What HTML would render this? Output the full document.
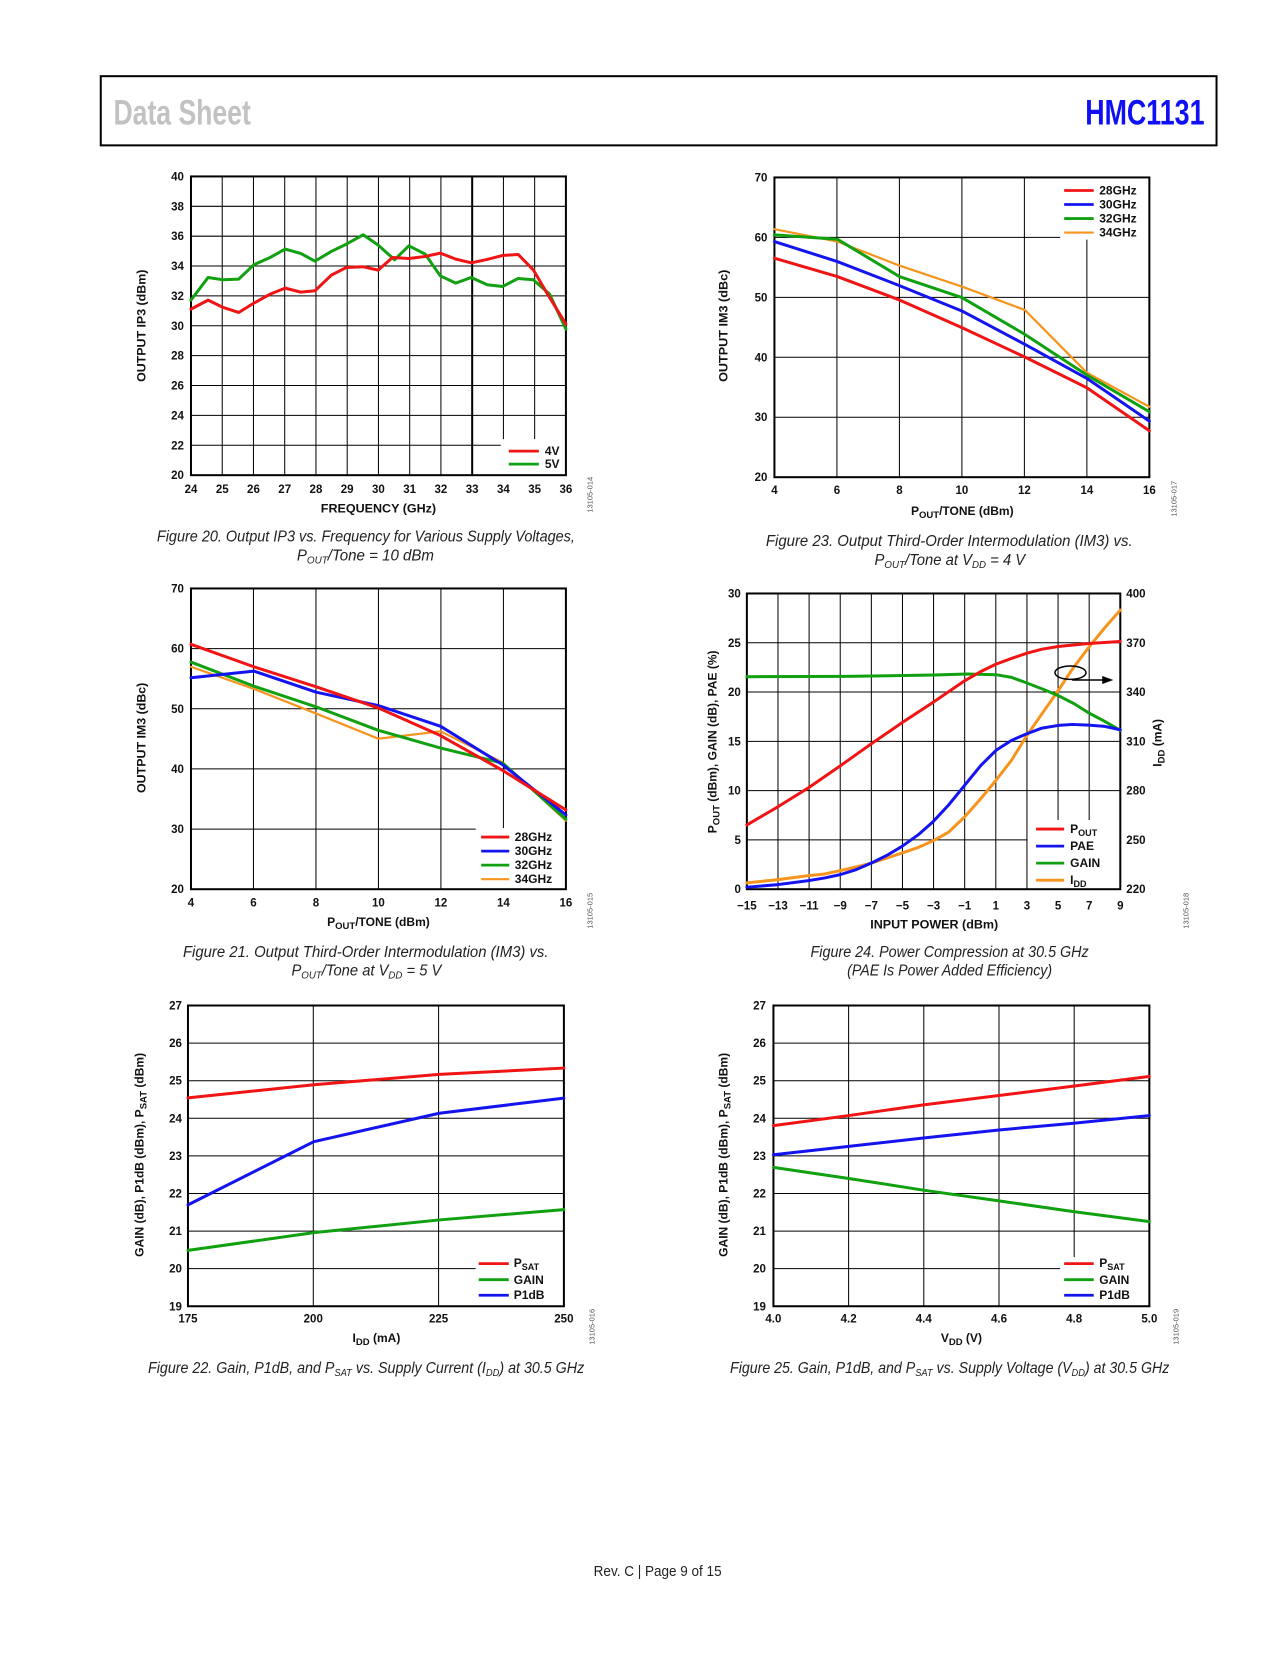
<!DOCTYPE html>
<html><head><meta charset="utf-8"><style>
html,body{margin:0;padding:0;background:#fff}
svg text{font-family:"Liberation Sans",Arial,sans-serif}
.t{font-size:11.5px;font-weight:bold;fill:#111}
.e{text-anchor:end}
.m{text-anchor:middle}
.ax{font-size:12px;font-weight:bold;fill:#111}
.lg{font-size:12px;font-weight:bold;fill:#111}
.cap{font-style:italic;font-size:16px;fill:#222}
.code{font-size:7.5px;fill:#555}
.g{stroke:#000;stroke-width:1;fill:none}
.b{stroke:#000;stroke-width:2;fill:none}
.s{fill:none;stroke-width:3;stroke-linejoin:round;stroke-linecap:round;vector-effect:non-scaling-stroke}
.so{fill:none;stroke-width:2.2;stroke-linejoin:round;stroke-linecap:round;vector-effect:non-scaling-stroke}
</style></head><body>
<svg width="1275" height="1650" viewBox="0 0 1275 1650" xmlns="http://www.w3.org/2000/svg">
<rect width="1275" height="1650" fill="#fff"/>
<g transform="translate(0.5,1) scale(1.0025)">
<!-- Header -->
<rect x="100" y="75" width="1113" height="69" fill="none" stroke="#000" stroke-width="2"/>
<text x="112.7" y="123" font-size="35" font-weight="bold" fill="#c2c2c2" textLength="137" lengthAdjust="spacingAndGlyphs">Data Sheet</text>
<text x="1082" y="123" font-size="35" font-weight="bold" fill="#1010f5" textLength="119" lengthAdjust="spacingAndGlyphs">HMC1131</text>

<!-- ============ Chart 20 ============ -->
<g>
<path class="g" d="M221.17 175V473M252.33 175V473M283.5 175V473M314.67 175V473M345.83 175V473M377 175V473M408.17 175V473M439.33 175V473M470.5 175V473M501.67 175V473M532.83 175V473
M190 204.8H564M190 234.6H564M190 264.4H564M190 294.2H564M190 324H564M190 353.8H564M190 383.6H564M190 413.4H564M190 443.2H564"/>
<path d="M470.5 175V473" stroke="#000" stroke-width="2"/>
<rect x="499" y="437" width="65" height="36" fill="#fff"/>
<rect class="b" x="190" y="175" width="374" height="298"/>
<svg x="190" y="175" width="374" height="298" viewBox="466 347 919 896" preserveAspectRatio="none" overflow="visible">
<polyline class="s" stroke="#10a010" points="466,718 508,650 545,657 583,655 620,612 660,590 697,565 735,578 770,601 810,572 847,550 888,522 925,553 965,597 1000,555 1040,580 1077,645 1115,667 1153,650 1192,672 1230,677 1268,653 1305,657 1345,700 1385,805"/>
<polyline class="s" stroke="#f01414" points="466,745 508,718 545,740 583,755 620,727 660,700 697,682 735,694 770,690 810,643 847,620 888,618 925,628 960,590 1000,593 1040,587 1077,577 1115,595 1153,606 1192,596 1230,584 1268,581 1305,627 1340,700 1385,790"/>
</svg>
<line x1="507" y1="449" x2="537" y2="449" stroke="#f01414" stroke-width="2.8"/>
<line x1="507" y1="462" x2="537" y2="462" stroke="#10a010" stroke-width="2.8"/>
<text class="lg" x="543" y="453">4V</text>
<text class="lg" x="543" y="466">5V</text>
<g class="t e">
<text x="183" y="179">40</text><text x="183" y="208.8">38</text><text x="183" y="238.6">36</text><text x="183" y="268.4">34</text><text x="183" y="298.2">32</text><text x="183" y="328">30</text><text x="183" y="357.8">28</text><text x="183" y="387.6">26</text><text x="183" y="417.4">24</text><text x="183" y="447.2">22</text><text x="183" y="477">20</text>
</g>
<g class="t m">
<text x="190" y="491">24</text><text x="221.17" y="491">25</text><text x="252.33" y="491">26</text><text x="283.5" y="491">27</text><text x="314.67" y="491">28</text><text x="345.83" y="491">29</text><text x="377" y="491">30</text><text x="408.17" y="491">31</text><text x="439.33" y="491">32</text><text x="470.5" y="491">33</text><text x="501.67" y="491">34</text><text x="532.83" y="491">35</text><text x="564" y="491">36</text>
</g>
<text class="ax" x="319.5" y="510" textLength="115" lengthAdjust="spacingAndGlyphs">FREQUENCY (GHz)</text>
<text class="ax m" transform="translate(144.5,324) rotate(-90)" textLength="112" lengthAdjust="spacingAndGlyphs">OUTPUT IP3 (dBm)</text>
<text class="code m" transform="translate(590.5,492.5) rotate(-90)">13105-014</text>
<text class="cap" x="156" y="539" textLength="417" lengthAdjust="spacingAndGlyphs">Figure 20. Output IP3 vs. Frequency for Various Supply Voltages,</text>
<text class="cap m" transform="translate(364,558) scale(0.94,1)" x="0" y="0">P<tspan font-size="10.5" dy="3">OUT</tspan><tspan dy="-3">/Tone = 10 dBm</tspan></text>
</g>

<!-- ============ Chart 21 ============ -->
<g>
<path class="g" d="M252.33 586V886M314.67 586V886M377 586V886M439.33 586V886M501.67 586V886
M190 646H564M190 706H564M190 766H564M190 826H564"/>
<rect x="474" y="825" width="90" height="61" fill="#fff"/>
<rect class="b" x="190" y="586" width="374" height="300"/>
<svg x="190" y="586" width="374" height="300" viewBox="466 78 919 899" preserveAspectRatio="none" overflow="visible">
<polyline class="so" stroke="#f7941d" points="466,312 620,378 773,452 925,527 1078,505 1230,598 1385,772"/>
<polyline class="s" stroke="#10a010" points="466,298 620,370 773,432 925,502 1078,555 1230,600 1385,768"/>
<polyline class="s" stroke="#1414f0" points="466,345 620,325 773,388 925,428 1078,490 1230,605 1385,755"/>
<polyline class="s" stroke="#f01414" points="466,245 620,312 773,372 925,435 1078,518 1230,622 1385,740"/>
</svg>
<line x1="479.5" y1="834" x2="507.5" y2="834" stroke="#f01414" stroke-width="2.8"/>
<line x1="479.5" y1="848" x2="507.5" y2="848" stroke="#1414f0" stroke-width="2.8"/>
<line x1="479.5" y1="862" x2="507.5" y2="862" stroke="#10a010" stroke-width="2.8"/>
<line x1="479.5" y1="876" x2="507.5" y2="876" stroke="#f7941d" stroke-width="2.2"/>
<text class="lg" x="513" y="838">28GHz</text>
<text class="lg" x="513" y="852">30GHz</text>
<text class="lg" x="513" y="866">32GHz</text>
<text class="lg" x="513" y="880">34GHz</text>
<g class="t e">
<text x="183" y="590">70</text><text x="183" y="650">60</text><text x="183" y="710">50</text><text x="183" y="770">40</text><text x="183" y="830">30</text><text x="183" y="890">20</text>
</g>
<g class="t m">
<text x="190" y="903">4</text><text x="252.33" y="903">6</text><text x="314.67" y="903">8</text><text x="377" y="903">10</text><text x="439.33" y="903">12</text><text x="501.67" y="903">14</text><text x="564" y="903">16</text>
</g>
<text class="ax m" x="377" y="922.5" font-size="12.5">P<tspan font-size="9.5" dy="3">OUT</tspan><tspan dy="-3">/TONE (dBm)</tspan></text>
<text class="ax m" transform="translate(144.5,735) rotate(-90)" textLength="110" lengthAdjust="spacingAndGlyphs">OUTPUT IM3 (dBc)</text>
<text class="code m" transform="translate(590.5,907.5) rotate(-90)">13105-015</text>
<text class="cap" x="182" y="953.5" textLength="364.6" lengthAdjust="spacingAndGlyphs">Figure 21. Output Third-Order Intermodulation (IM3) vs.</text>
<text class="cap m" transform="translate(365,972) scale(0.92,1)" x="0" y="0">P<tspan font-size="10.5" dy="3">OUT</tspan><tspan dy="-3">/Tone at V</tspan><tspan font-size="10.5" dy="3">DD</tspan><tspan dy="-3"> = 5 V</tspan></text>
</g>

<!-- ============ Chart 22 ============ -->
<g>
<path class="g" d="M312 1002V1302M437 1002V1302
M187 1039.5H562M187 1077H562M187 1114.5H562M187 1152H562M187 1189.5H562M187 1227H562M187 1264.5H562"/>
<rect x="474" y="1253" width="88" height="49" fill="#fff"/>
<rect class="b" x="187" y="1002" width="375" height="300"/>
<svg x="187" y="1002" width="375" height="300" viewBox="460 96 920 899" preserveAspectRatio="none" overflow="visible">
<polyline class="s" stroke="#10a010" points="460,828 768,775 1075,737 1380,706"/>
<polyline class="s" stroke="#1414f0" points="460,692 768,503 1075,418 1380,373"/>
<polyline class="s" stroke="#f01414" points="460,372 768,333 1075,302 1380,283"/>
</svg>
<line x1="477" y1="1259.5" x2="507" y2="1259.5" stroke="#f01414" stroke-width="2.8"/>
<line x1="477" y1="1275.5" x2="507" y2="1275.5" stroke="#10a010" stroke-width="2.8"/>
<line x1="477" y1="1291" x2="507" y2="1291" stroke="#1414f0" stroke-width="2.8"/>
<text class="lg" x="512" y="1263">P<tspan font-size="9" dy="3">SAT</tspan></text>
<text class="lg" x="512" y="1280">GAIN</text>
<text class="lg" x="512" y="1295">P1dB</text>
<g class="t e">
<text x="181" y="1006">27</text><text x="181" y="1043.5">26</text><text x="181" y="1081">25</text><text x="181" y="1118.5">24</text><text x="181" y="1156">23</text><text x="181" y="1193.5">22</text><text x="181" y="1231">21</text><text x="181" y="1268.5">20</text><text x="181" y="1306">19</text>
</g>
<g class="t m">
<text x="187" y="1318">175</text><text x="312" y="1318">200</text><text x="437" y="1318">225</text><text x="562" y="1318">250</text>
</g>
<text class="ax m" x="375" y="1337.5">I<tspan font-size="9.5" dy="3">DD</tspan><tspan dy="-3"> (mA)</tspan></text>
<text class="ax m" transform="translate(142.5,1151) rotate(-90)">GAIN (dB), P1dB (dBm), P<tspan font-size="9.5" dy="3">SAT</tspan><tspan dy="-3"> (dBm)</tspan></text>
<text class="code m" transform="translate(592.5,1322.5) rotate(-90)">13105-016</text>
<text class="cap m" transform="translate(364.7,1368.5) scale(0.89,1)" x="0" y="0">Figure 22. Gain, P1dB, and P<tspan font-size="10.5" dy="3">SAT</tspan><tspan dy="-3"> vs. Supply Current (I</tspan><tspan font-size="10.5" dy="3">DD</tspan><tspan dy="-3">) at 30.5 GHz</tspan></text>
</g>

<!-- ============ Chart 23 ============ -->
<g>
<path class="g" d="M834.33 176V475M896.67 176V475M959 176V475M1021.33 176V475M1083.67 176V475
M772 235.8H1146M772 295.6H1146M772 355.4H1146M772 415.2H1146"/>
<rect x="1057" y="176" width="89" height="62" fill="#fff"/>
<rect class="b" x="772" y="176" width="374" height="299"/>
<svg x="772" y="176" width="374" height="299" viewBox="325 348 924 898" preserveAspectRatio="none" overflow="visible">
<polyline class="so" stroke="#f7941d" points="325,503 480,540 633,612 787,675 942,745 1095,933 1249,1035"/>
<polyline class="s" stroke="#10a010" points="325,520 480,533 633,645 787,708 942,818 1095,940 1249,1050"/>
<polyline class="s" stroke="#1414f0" points="325,540 480,600 633,672 787,748 942,848 1095,950 1249,1078"/>
<polyline class="s" stroke="#f01414" points="325,590 480,645 633,715 787,798 942,886 1095,978 1249,1107"/>
</svg>
<line x1="1061" y1="189" x2="1090.5" y2="189" stroke="#f01414" stroke-width="2.8"/>
<line x1="1061" y1="203" x2="1090.5" y2="203" stroke="#1414f0" stroke-width="2.8"/>
<line x1="1061" y1="217" x2="1090.5" y2="217" stroke="#10a010" stroke-width="2.8"/>
<line x1="1061" y1="231" x2="1090.5" y2="231" stroke="#f7941d" stroke-width="2.2"/>
<text class="lg" x="1096" y="193">28GHz</text>
<text class="lg" x="1096" y="207">30GHz</text>
<text class="lg" x="1096" y="221">32GHz</text>
<text class="lg" x="1096" y="235">34GHz</text>
<g class="t e">
<text x="765" y="180">70</text><text x="765" y="239.8">60</text><text x="765" y="299.6">50</text><text x="765" y="359.4">40</text><text x="765" y="419.2">30</text><text x="765" y="479">20</text>
</g>
<g class="t m">
<text x="772" y="492">4</text><text x="834.33" y="492">6</text><text x="896.67" y="492">8</text><text x="959" y="492">10</text><text x="1021.33" y="492">12</text><text x="1083.67" y="492">14</text><text x="1146" y="492">16</text>
</g>
<text class="ax m" x="959.4" y="512.5" font-size="12.5">P<tspan font-size="9.5" dy="3">OUT</tspan><tspan dy="-3">/TONE (dBm)</tspan></text>
<text class="ax m" transform="translate(725,324) rotate(-90)" textLength="112" lengthAdjust="spacingAndGlyphs">OUTPUT IM3 (dBc)</text>
<text class="code m" transform="translate(1173,496.5) rotate(-90)">13105-017</text>
<text class="cap" x="763.5" y="543.5" textLength="365.8" lengthAdjust="spacingAndGlyphs">Figure 23. Output Third-Order Intermodulation (IM3) vs.</text>
<text class="cap m" transform="translate(947,562.5) scale(0.925,1)" x="0" y="0">P<tspan font-size="10.5" dy="3">OUT</tspan><tspan dy="-3">/Tone at V</tspan><tspan font-size="10.5" dy="3">DD</tspan><tspan dy="-3"> = 4 V</tspan></text>
</g>

<!-- ============ Chart 24 ============ -->
<g>
<path class="g" d="M775.54 591V886M806.58 591V886M837.63 591V886M868.67 591V886M899.71 591V886M930.75 591V886M961.79 591V886M992.83 591V886M1023.88 591V886M1054.92 591V886M1085.96 591V886
M744.5 640.17H1117M744.5 689.33H1117M744.5 738.5H1117M744.5 787.67H1117M744.5 836.83H1117"/>
<rect x="1024.5" y="817" width="92.5" height="69" fill="#fff"/>
<rect class="b" x="744.5" y="591" width="372.5" height="295"/>
<svg x="744.5" y="591" width="372.5" height="295" viewBox="258 92 920 892" preserveAspectRatio="none" overflow="visible">
<polyline class="s" stroke="#f7941d" points="258,965 335,955 410,943 450,938 488,928 527,917 565,905 603,890 640,875 680,858 717,838 755,812 795,765 835,710 872,655 910,595 948,520 985,455 1025,385 1060,320 1100,255 1140,195 1178,142"/>
<polyline class="s" stroke="#10a010" points="258,343 500,342 720,338 800,335 872,337 910,345 948,362 990,382 1025,400 1065,425 1100,452 1140,478 1178,505"/>
<polyline class="s" stroke="#1414f0" points="258,978 335,970 410,958 450,950 488,940 527,925 565,905 603,882 640,855 680,820 717,780 755,730 795,670 835,610 872,565 910,535 948,515 985,498 1025,490 1060,487 1100,489 1140,493 1178,503"/>
<polyline class="s" stroke="#f01414" points="258,790 335,735 410,678 488,612 565,545 640,482 717,420 795,355 835,327 872,305 910,288 948,272 985,260 1025,252 1100,243 1178,237"/>
</svg>
<ellipse cx="1067.3" cy="670" rx="15.5" ry="6.7" fill="none" stroke="#000" stroke-width="1.5"/>
<line x1="1069" y1="677.3" x2="1101" y2="677.3" stroke="#000" stroke-width="1.5"/>
<polygon points="1099,673.3 1110,677.3 1099,681.3" fill="#000"/>
<line x1="1033" y1="826" x2="1061" y2="826" stroke="#f01414" stroke-width="2.8"/>
<line x1="1033" y1="843" x2="1061" y2="843" stroke="#1414f0" stroke-width="2.8"/>
<line x1="1033" y1="860" x2="1061" y2="860" stroke="#10a010" stroke-width="2.8"/>
<line x1="1033" y1="877" x2="1061" y2="877" stroke="#f7941d" stroke-width="2.8"/>
<text class="lg" x="1067" y="830">P<tspan font-size="9" dy="3">OUT</tspan></text>
<text class="lg" x="1067" y="847">PAE</text>
<text class="lg" x="1067" y="864">GAIN</text>
<text class="lg" x="1067" y="881">I<tspan font-size="9" dy="3">DD</tspan></text>
<g class="t e">
<text x="738.5" y="595">30</text><text x="738.5" y="644.17">25</text><text x="738.5" y="693.33">20</text><text x="738.5" y="742.5">15</text><text x="738.5" y="791.67">10</text><text x="738.5" y="840.83">5</text><text x="738.5" y="890">0</text>
</g>
<g class="t">
<text x="1123" y="595">400</text><text x="1123" y="644.17">370</text><text x="1123" y="693.33">340</text><text x="1123" y="742.5">310</text><text x="1123" y="791.67">280</text><text x="1123" y="840.83">250</text><text x="1123" y="890">220</text>
</g>
<g class="t m">
<text x="744.5" y="906">−15</text><text x="775.54" y="906">−13</text><text x="806.58" y="906">−11</text><text x="837.63" y="906">−9</text><text x="868.67" y="906">−7</text><text x="899.71" y="906">−5</text><text x="930.75" y="906">−3</text><text x="961.79" y="906">−1</text><text x="992.83" y="906">1</text><text x="1023.88" y="906">3</text><text x="1054.92" y="906">5</text><text x="1085.96" y="906">7</text><text x="1117" y="906">9</text>
</g>
<text class="ax" x="867.6" y="925" textLength="127.6" lengthAdjust="spacingAndGlyphs">INPUT POWER (dBm)</text>
<text class="ax m" transform="translate(714,739) rotate(-90)">P<tspan font-size="9.5" dy="3">OUT</tspan><tspan dy="-3"> (dBm), GAIN (dB), PAE (%)</tspan></text>
<text class="ax m" transform="translate(1158,740) rotate(-90)">I<tspan font-size="9.5" dy="3">DD</tspan><tspan dy="-3"> (mA)</tspan></text>
<text class="code m" transform="translate(1185,907.5) rotate(-90)">13105-018</text>
<text class="cap" x="808" y="953.5" textLength="277.5" lengthAdjust="spacingAndGlyphs">Figure 24. Power Compression at 30.5 GHz</text>
<text class="cap" x="844.5" y="972" textLength="204.5" lengthAdjust="spacingAndGlyphs">(PAE Is Power Added Efficiency)</text>
</g>

<!-- ============ Chart 25 ============ -->
<g>
<path class="g" d="M846 1002V1302M921 1002V1302M996 1002V1302M1071 1002V1302
M771 1039.5H1146M771 1077H1146M771 1114.5H1146M771 1152H1146M771 1189.5H1146M771 1227H1146M771 1264.5H1146"/>
<rect x="1057" y="1253" width="89" height="49" fill="#fff"/>
<rect class="b" x="771" y="1002" width="375" height="300"/>
<svg x="771" y="1002" width="375" height="300" viewBox="322 96 927 899" preserveAspectRatio="none" overflow="visible">
<polyline class="s" stroke="#10a010" points="322,580 508,613 692,648 878,680 1062,712 1249,742"/>
<polyline class="s" stroke="#1414f0" points="322,542 508,517 692,492 878,468 1062,448 1249,425"/>
<polyline class="s" stroke="#f01414" points="322,455 508,425 692,393 878,365 1062,337 1249,308"/>
</svg>
<line x1="1061" y1="1259.5" x2="1090.5" y2="1259.5" stroke="#f01414" stroke-width="2.8"/>
<line x1="1061" y1="1275.5" x2="1090.5" y2="1275.5" stroke="#10a010" stroke-width="2.8"/>
<line x1="1061" y1="1291" x2="1090.5" y2="1291" stroke="#1414f0" stroke-width="2.8"/>
<text class="lg" x="1096" y="1263">P<tspan font-size="9" dy="3">SAT</tspan></text>
<text class="lg" x="1096" y="1280">GAIN</text>
<text class="lg" x="1096" y="1295">P1dB</text>
<g class="t e">
<text x="763.5" y="1006">27</text><text x="763.5" y="1043.5">26</text><text x="763.5" y="1081">25</text><text x="763.5" y="1118.5">24</text><text x="763.5" y="1156">23</text><text x="763.5" y="1193.5">22</text><text x="763.5" y="1231">21</text><text x="763.5" y="1268.5">20</text><text x="763.5" y="1306">19</text>
</g>
<g class="t m">
<text x="771" y="1318">4.0</text><text x="846" y="1318">4.2</text><text x="921" y="1318">4.4</text><text x="996" y="1318">4.6</text><text x="1071" y="1318">4.8</text><text x="1146" y="1318">5.0</text>
</g>
<text class="ax m" x="958.5" y="1337.5">V<tspan font-size="9.5" dy="3">DD</tspan><tspan dy="-3"> (V)</tspan></text>
<text class="ax m" transform="translate(725,1151) rotate(-90)">GAIN (dB), P1dB (dBm), P<tspan font-size="9.5" dy="3">SAT</tspan><tspan dy="-3"> (dBm)</tspan></text>
<text class="code m" transform="translate(1175,1322.5) rotate(-90)">13105-019</text>
<text class="cap m" transform="translate(946.8,1368.5) scale(0.885,1)" x="0" y="0">Figure 25. Gain, P1dB, and P<tspan font-size="10.5" dy="3">SAT</tspan><tspan dy="-3"> vs. Supply Voltage (V</tspan><tspan font-size="10.5" dy="3">DD</tspan><tspan dy="-3">) at 30.5 GHz</tspan></text>
</g>

<!-- Footer -->
<text x="591.7" y="1571" font-size="15" fill="#222" textLength="127.6" lengthAdjust="spacingAndGlyphs">Rev. C | Page 9 of 15</text>
</g>
</svg>
</body></html>
